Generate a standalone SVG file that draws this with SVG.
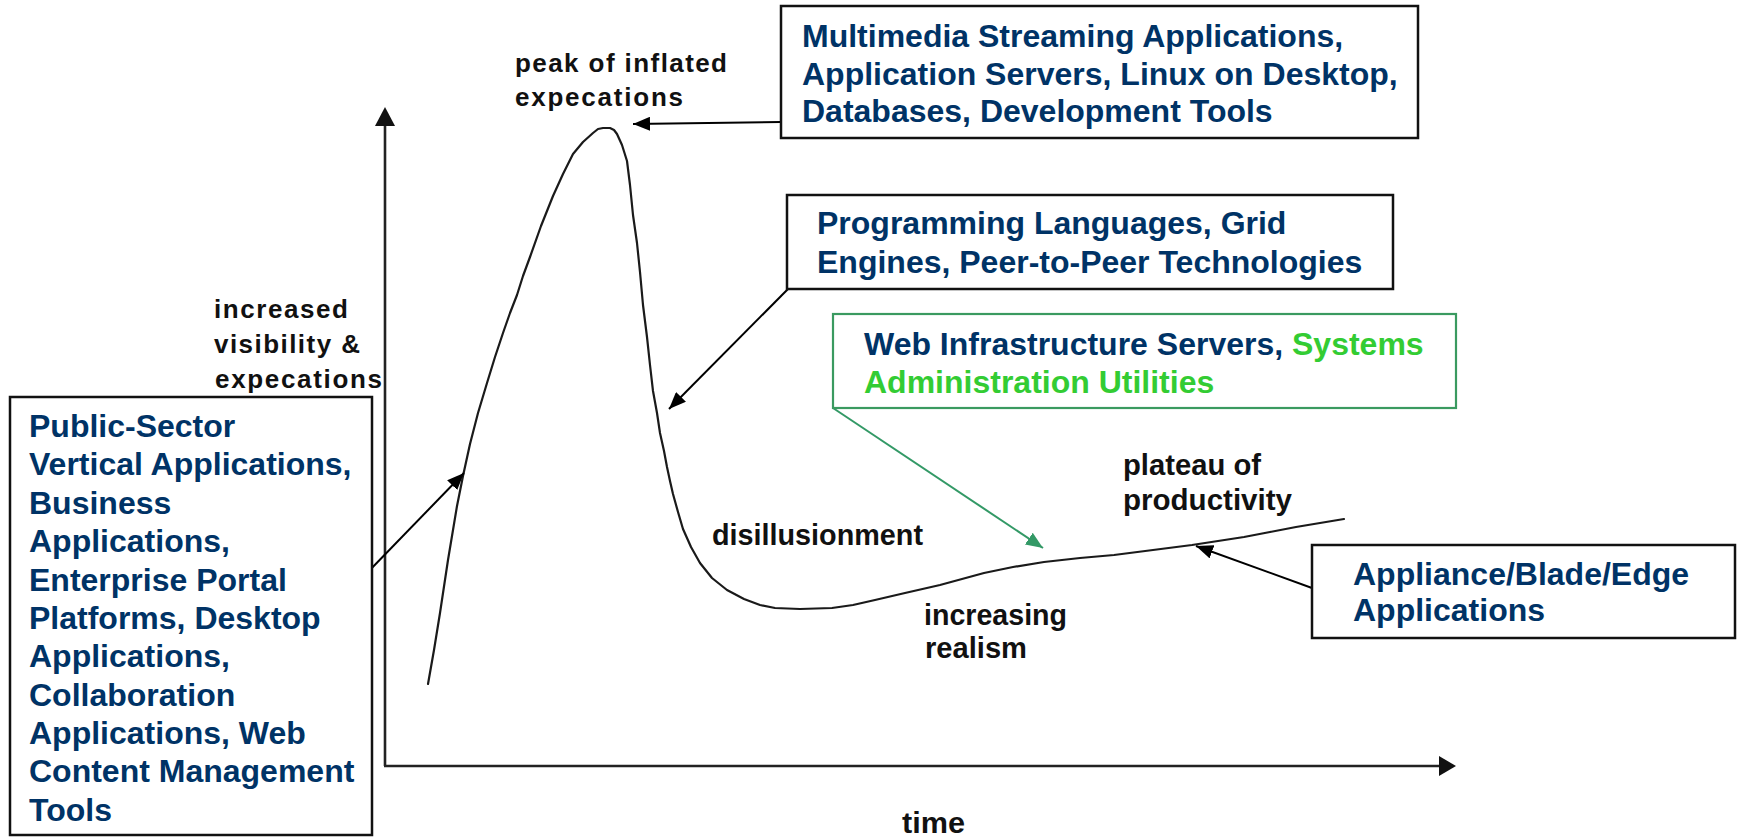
<svg xmlns="http://www.w3.org/2000/svg" width="1739" height="837" viewBox="0 0 1739 837">
  <style>
    .box { fill: #ffffff; stroke: #111111; stroke-width: 2.5; }
    .gbox { fill: #ffffff; stroke: #3a9a60; stroke-width: 2.2; }
    .note { font-family: "Liberation Sans", Arial, sans-serif; font-weight: bold; font-size: 32px; fill: #003366; }
    .green { fill: #33cc33; }
    .lab { font-family: "Liberation Sans", Arial, sans-serif; font-weight: bold; font-size: 26px; fill: #111111; }
    .nar { font-family: "Liberation Sans", Arial, sans-serif; font-weight: bold; font-size: 29px; fill: #111111; }
    .axis { stroke: #222222; stroke-width: 2.6; fill: none; }
    .curve { stroke: #1a1a1a; stroke-width: 2.2; fill: none; stroke-linejoin: round; stroke-linecap: round; }
    .conn { stroke: #000000; stroke-width: 2; fill: none; }
    .gconn { stroke: #339966; stroke-width: 2; fill: none; }
  </style>
  <defs>
    <marker id="arrowBlack" markerUnits="userSpaceOnUse" markerWidth="17" markerHeight="14" refX="17" refY="7" orient="auto">
      <path d="M0,0 L17,7 L0,14 z" fill="#000000"/>
    </marker>
    <marker id="arrowGreen" markerUnits="userSpaceOnUse" markerWidth="17" markerHeight="14" refX="17" refY="7" orient="auto">
      <path d="M0,0 L17,7 L0,14 z" fill="#339966"/>
    </marker>
  </defs>

  <rect width="1739" height="837" fill="#ffffff"/>

  <!-- chart axes -->
  <g id="axes">
    <line class="axis" x1="385" y1="124" x2="385" y2="766"/>
    <line class="axis" x1="384" y1="766" x2="1442" y2="766"/>
    <path d="M385,107 L375,126 L395,126 z" fill="#111111"/>
    <path d="M1456,766 L1439,756 L1439,776 z" fill="#111111"/>
    <text class="nar" x="902" y="833" textLength="63" lengthAdjust="spacingAndGlyphs" font-size="25">time</text>
  </g>

  <!-- hype curve -->
  <g id="hype-curve">
    <polyline class="curve" points="428,684 434,650 440,613 448,560 457,506 463,476 470,444 478,413 487,383 495,357 503,333 510,313 517,295 523,276 530,257 541,226 553,196 563,174 573,154 583,142 593,133 598,129 603,128 610,128 614,130 617,134 622,145 627,161 630,185 633,215 637,243 640,272 643,305 647,337 650,365 653,391 657,413 660,433 664,451 667,467 670,481 673,494 678,512 683,529 691,547 700,563 712,578 727,590 744,599 760,605 775,608 800,609 832,608 853,605 875,600 905,593 940,585 962,579 984,573 1013,567 1044,562 1080,558 1114,555 1153,550 1192,545 1218,541 1244,537 1270,532 1296,527 1320,523 1344,519"/>
  </g>

  <!-- curve annotations -->
  <g id="label-peak">
    <text class="lab" x="515" y="72" textLength="212" lengthAdjust="spacing">peak of inflated</text>
    <text class="lab" x="515" y="106" textLength="168" lengthAdjust="spacing">expecations</text>
  </g>
  <g id="label-visibility">
    <text class="lab" x="214" y="318" textLength="134" lengthAdjust="spacing">increased</text>
    <text class="lab" x="214" y="353" textLength="146" lengthAdjust="spacing">visibility &amp;</text>
    <text class="lab" x="215" y="388" textLength="167" lengthAdjust="spacing">expecations</text>
  </g>
  <g id="label-disillusionment">
    <text class="nar" x="712" y="545" textLength="211" lengthAdjust="spacingAndGlyphs">disillusionment</text>
  </g>
  <g id="label-plateau">
    <text class="nar" x="1123" y="475" textLength="138" lengthAdjust="spacingAndGlyphs">plateau of</text>
    <text class="nar" x="1123" y="510" textLength="169" lengthAdjust="spacingAndGlyphs">productivity</text>
  </g>
  <g id="label-realism">
    <text class="nar" x="924" y="625" textLength="143" lengthAdjust="spacingAndGlyphs">increasing</text>
    <text class="nar" x="925" y="658" textLength="102" lengthAdjust="spacingAndGlyphs">realism</text>
  </g>

  <!-- connectors from the note boxes to the curve -->
  <g id="connectors">
    <line class="conn" x1="781" y1="122" x2="633" y2="124" marker-end="url(#arrowBlack)"/>
    <line class="conn" x1="788" y1="289" x2="669" y2="409" marker-end="url(#arrowBlack)"/>
    <line class="gconn" x1="833" y1="408" x2="1043" y2="548" marker-end="url(#arrowGreen)"/>
    <line class="conn" x1="1312" y1="588" x2="1196" y2="546" marker-end="url(#arrowBlack)"/>
    <line class="conn" x1="367" y1="573" x2="464" y2="473" marker-end="url(#arrowBlack)"/>
  </g>

  <!-- note boxes -->
  <g id="box-multimedia">
    <rect class="box" x="781" y="6" width="637" height="132"/>
    <text class="note" x="802" y="47">Multimedia Streaming Applications,</text>
    <text class="note" x="802" y="85">Application Servers, Linux on Desktop,</text>
    <text class="note" x="802" y="122">Databases, Development Tools</text>
  </g>
  <g id="box-programming">
    <rect class="box" x="787" y="195" width="606" height="94"/>
    <text class="note" x="817" y="234">Programming Languages, Grid</text>
    <text class="note" x="817" y="273">Engines, Peer-to-Peer Technologies</text>
  </g>
  <g id="box-web-infrastructure">
    <rect class="gbox" x="833" y="314" width="623" height="94"/>
    <text class="note" x="864" y="355">Web Infrastructure Servers, <tspan class="green">Systems</tspan></text>
    <text class="note green" x="864" y="393">Administration Utilities</text>
  </g>
  <g id="box-appliance">
    <rect class="box" x="1312" y="545" width="423" height="93"/>
    <text class="note" x="1353" y="585">Appliance/Blade/Edge</text>
    <text class="note" x="1353" y="621">Applications</text>
  </g>
  <g id="box-public-sector">
    <rect class="box" x="10" y="397" width="362" height="438"/>
    <text class="note" x="29" y="437">Public-Sector</text>
    <text class="note" x="29" y="475">Vertical Applications,</text>
    <text class="note" x="29" y="514">Business</text>
    <text class="note" x="29" y="552">Applications,</text>
    <text class="note" x="29" y="591">Enterprise Portal</text>
    <text class="note" x="29" y="629">Platforms, Desktop</text>
    <text class="note" x="29" y="667">Applications,</text>
    <text class="note" x="29" y="706">Collaboration</text>
    <text class="note" x="29" y="744">Applications, Web</text>
    <text class="note" x="29" y="782">Content Management</text>
    <text class="note" x="29" y="821">Tools</text>
  </g>
</svg>
